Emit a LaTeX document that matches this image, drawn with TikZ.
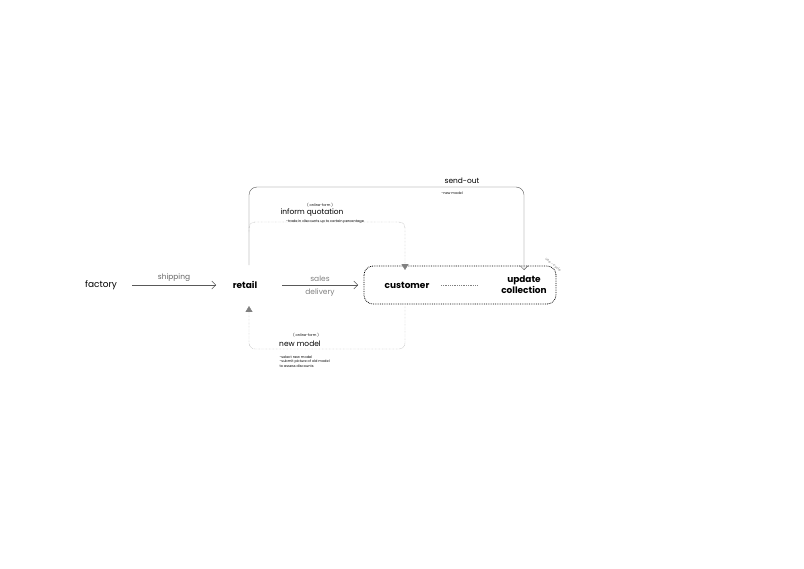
\documentclass[tikz,border=0pt]{standalone}
\usepackage{fontspec}
\setmainfont{Poppins}
\usetikzlibrary{arrows.meta}
\begin{document}
\begin{tikzpicture}[x=1bp,y=-1bp,
	box/.style={font=\fontsize{9}{10}\selectfont},
	bbox/.style={font=\bfseries\fontsize{9}{11}\selectfont,align=center},
	grey/.style={text=gray,font=\fontsize{7.5}{9}\selectfont},
	tiny/.style={font=\fontsize{3.5}{4.5}\selectfont,align=left},
	small/.style={font=\fontsize{7.5}{9}\selectfont},
	flow/.style={gray!70!black,-{Straight Barb[length=4pt,width=8pt]}},
	form/.style={densely dotted,gray,rounded corners=6bp},
	]
	\useasboundingbox (0,0) rectangle (804,569);
	% main flow
	\node[box] (factory) at (101,285) {factory};
	\node[bbox] (retail) at (245,285) {retail};
	\draw[rounded corners=9bp,densely dotted,thick] (364,266) rectangle (556,304);
	\node[bbox] (customer) at (407,285) {customer};
	\node[bbox] (update) at (524,285) {update\\collection};
	\draw[densely dotted,thick,gray] (441,285) -- (478,285);
	\node[tiny,text=gray,rotate=-40] (cycle) at (553,265) {use - cycle};
	\draw[flow] (132,285) -- node[above,grey,text=gray!80!black] (ship) {shipping} (216,285);
	\draw[flow] (282,285) -- node[grey,above] (sales) {sales} node[grey,below] (deliv) {delivery} (358,285);
	% send-out
	\coordinate (so1) at (249,265);
	\coordinate (so2) at (524,270);
	\draw[gray!70!black,rounded corners=8bp,-{Straight Barb[length=4pt,width=8pt]}] (so1) |- (386,187) -| (so2);
	\node[small] (sendout) at (462,181) {send-out};
	\node[tiny] (sonote) at (452,193) {-new model};
	% inform quotation
	\coordinate (iq1) at (249,232);
	\coordinate (iq2) at (405,270);
	\draw[form,-{Triangle[length=6pt,width=7pt]}] (iq1) |- (330,222) -| (iq2);
	\node[tiny] (iqform) at (320,205) {( online-form )};
	\node[small] (iq) at (312,213) {inform quotation};
	\node[tiny] (iqnote) at (325,222) {-trade in discounts up to certain percentage};
	% new model
	\coordinate (nm1) at (405,306);
	\coordinate (nm2) at (249,306);
	\draw[form,-{Triangle[length=6pt,width=7pt]}] (nm1) |- (330,349) -| (nm2);
	\node[tiny] (nmform) at (306,335) {( online-form )};
	\node[small] (nm) at (300,344) {new model};
	\node[tiny,anchor=north west] (nmnote) at (276,352) {-select new model\\-submit picture of old model\\to assess discounts};
\end{tikzpicture}
\end{document}
